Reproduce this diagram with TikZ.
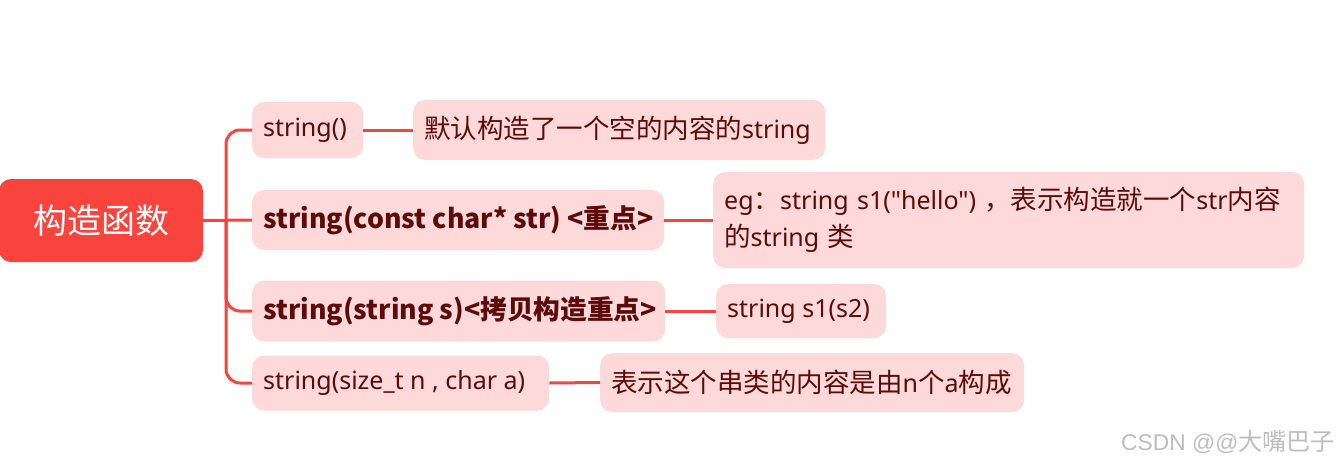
\documentclass[tikz,border=0pt]{standalone}
\usepackage{fontspec}
\setmainfont{Noto Sans}[Ligatures=TeXOff]
\newfontfamily\cjk{Noto Sans CJK SC}[Scale=1.06]
\newfontfamily\rootfont{Noto Sans CJK SC}
\newfontfamily\wmfont{Liberation Sans}
\newcommand{\lbx}[2]{\makebox[#1][l]{#2}}
\definecolor{rootred}{HTML}{F9443E}
\definecolor{pinkfill}{HTML}{FDD9D9}
\definecolor{txtdark}{HTML}{5C0A0A}
\definecolor{wmgray}{HTML}{BDBDBD}
\tikzset{
  rootbox/.style={fill=rootred, rounded corners=12pt, inner sep=0pt, text=white,
    font=\fontsize{34}{40}\selectfont\rootfont, minimum width=204pt, minimum height=83pt},
  topic/.style={fill=pinkfill, rounded corners=12pt, inner xsep=11pt, inner ysep=0pt,
    anchor=west, text=txtdark, font=\fontsize{25}{37}\selectfont},
  boldtopic/.style={topic, font=\fontsize{25.2}{37}\selectfont\cjk\bfseries},
  link/.style={draw=rootred, line width=3pt},
  watermark/.style={text=wmgray, font=\fontsize{22.8}{24}\selectfont\wmfont, anchor=west, inner sep=0pt}
}
\begin{document}
\begin{tikzpicture}[x=1pt, y=-1pt]
\useasboundingbox (0,0) rectangle (1343,466);
% root
\node[rootbox] (root) at (101,220.5) {构造函数};
% branches
\node[topic, minimum height=56pt] (b1) at (252,130) {\lbx{89pt}{string()}};
\node[boldtopic, minimum height=60pt] (b2) at (252,220) {\lbx{390pt}{string(const char* str) <重点>}};
\node[boldtopic, minimum height=61pt] (b3) at (252,311) {\lbx{391pt}{string(string s)<拷贝构造重点>}};
\node[topic, minimum height=55pt] (b4) at (252,383) {\lbx{275pt}{string(size\_t n , char a)}};
% leaves
\node[topic, minimum height=60pt] (l1) at (413,130) {\lbx{390pt}{{\cjk 默认构造了一个空的内容的}string}};
\node[topic, minimum height=96pt, text width=569pt, align=left] (l2) at (713,220)
  {\mbox{eg{\cjk ：}string s1("hello") {\cjk ，表示构造就一个}str{\cjk 内容}}\\\mbox{{\cjk 的}string {\cjk 类}}};
\node[topic, minimum height=54pt] (l3) at (716,311) {\lbx{148pt}{string s1(s2)}};
\node[topic, minimum height=59pt] (l4) at (600,382.5) {\lbx{402pt}{{\cjk 表示这个串类的内容是由}n{\cjk 个}a{\cjk 构成}}};
% trunk
\coordinate (j) at (226,220);
\draw[link] (root.east) -- (b2.west);
\draw[link, rounded corners=14pt] (j) |- (b1.west);
\draw[link, rounded corners=14pt] (j) |- (b3.west);
\draw[link, rounded corners=14pt] (j) |- (b4.west);
% leaf links
\draw[link] (b1.east) -- (l1.west);
\draw[link] (b2.east) -- (l2.west);
\draw[link] (b3.east) -- (l3.west);
\draw[link] (b4.east) -- (l4.west);
% watermark
\node[watermark] (wm) at (1121,442) {CSDN @@{\cjk 大嘴巴子}};
\end{tikzpicture}
\end{document}
